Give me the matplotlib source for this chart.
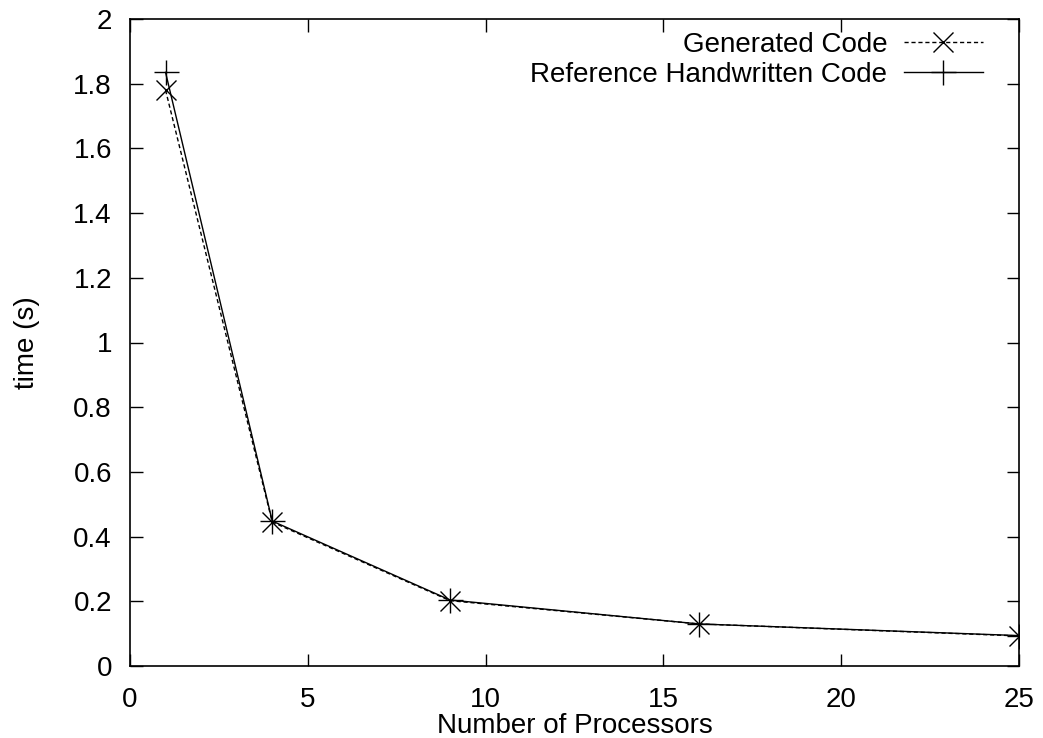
import matplotlib
matplotlib.use("Agg")
import matplotlib.pyplot as plt

processors = [1, 4, 9, 16, 25]
generated = [1.78, 0.445, 0.202, 0.13, 0.093]
handwritten = [1.835, 0.448, 0.204, 0.13, 0.094]
xticks = [0, 5, 10, 15, 20, 25]
yticks = [0, 0.2, 0.4, 0.6, 0.8, 1, 1.2, 1.4, 1.6, 1.8, 2]
ytick_labels = ["0", "0.2", "0.4", "0.6", "0.8", "1", "1.2", "1.4", "1.6", "1.8", "2"]

plt.rcParams['font.family'] = ['Liberation Sans', 'DejaVu Sans']
fig = plt.figure(figsize=(10.43, 7.38), dpi=100)
ax = fig.add_axes([130/1043, 1 - 666/738, (1019-130)/1043, (666-19)/738])

ax.plot(processors, generated, color='black', linestyle=(0, (3, 2)), linewidth=1,
        marker='x', markersize=14, markeredgewidth=1, label='Generated Code')
ax.plot(processors, handwritten, color='black', linestyle='-', linewidth=1,
        marker='+', markersize=18, markeredgewidth=1, label='Reference Handwritten Code')

FS = 20
ax.set_xlim(0, 25)
ax.set_ylim(0, 2)
ax.set_xticks(xticks)
ax.set_yticks(yticks)
ax.set_yticklabels(ytick_labels)
ax.tick_params(direction='in', length=9, width=1, top=True, right=True,
               labelsize=FS)
ax.tick_params(axis='x', pad=15)
ax.tick_params(axis='y', pad=13)
for s in ax.spines.values():
    s.set_linewidth(1.2)
ax.set_xlabel('Number of Processors', fontsize=FS, labelpad=0)
ax.set_ylabel('time (s)', fontsize=FS, labelpad=24)

ax.legend(loc='upper right', frameon=False, markerfirst=False, fontsize=FS,
          handlelength=2.85, handletextpad=0.6, borderaxespad=0.0,
          labelspacing=0.15, bbox_to_anchor=((983-130)/889, 1.0 - 13/647),
          borderpad=0.0)

fig.savefig('out.png', dpi=100)
